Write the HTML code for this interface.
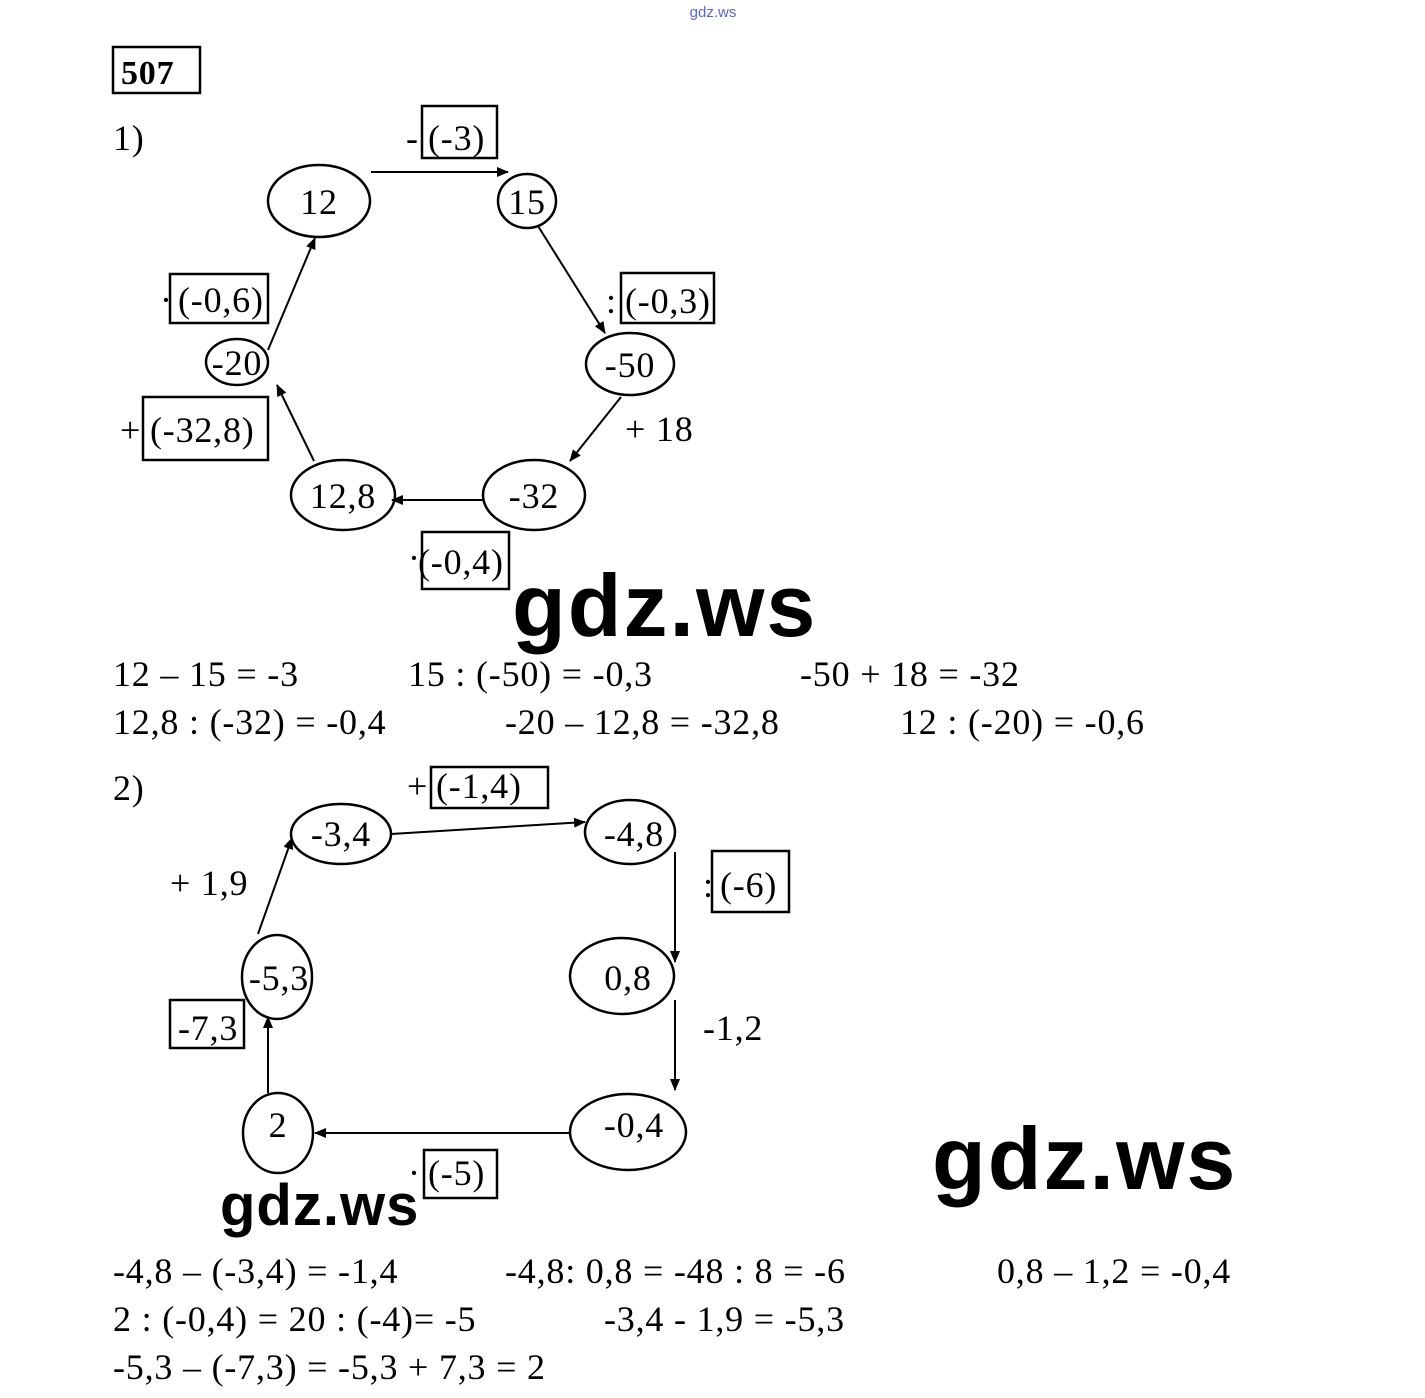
<!DOCTYPE html>
<html><head><meta charset="utf-8"><style>
html,body{margin:0;padding:0;background:#fff;}
svg{display:block;}
text{font-family:"Liberation Serif",serif;font-size:36px;fill:#000;letter-spacing:0.8px;}
.wm{font-family:"Liberation Sans",sans-serif;font-weight:bold;letter-spacing:2px;}
</style></head><body>
<svg width="1425" height="1398" viewBox="0 0 1425 1398" xmlns="http://www.w3.org/2000/svg">
<defs><marker id="a" markerWidth="12" markerHeight="10" refX="11" refY="5" orient="auto" markerUnits="userSpaceOnUse"><path d="M0,0 L12,5 L0,10 z" fill="#000"/></marker></defs>
<g fill="none" stroke="#000" stroke-width="2.5">
<rect x="113" y="47" width="87" height="46"/>
<ellipse cx="319" cy="201" rx="51" ry="36"/>
<ellipse cx="527" cy="201" rx="29" ry="27"/>
<ellipse cx="630" cy="364" rx="44" ry="31"/>
<ellipse cx="534" cy="495" rx="51" ry="35"/>
<ellipse cx="343" cy="495" rx="52" ry="35"/>
<ellipse cx="237" cy="362" rx="31" ry="23"/>
<rect x="422" y="106" width="75" height="52"/>
<rect x="621" y="273" width="93" height="50"/>
<rect x="422" y="532" width="87" height="57"/>
<rect x="143" y="397" width="125" height="63"/>
<rect x="170" y="274" width="98" height="49"/>
<ellipse cx="341" cy="834" rx="50" ry="30"/>
<ellipse cx="630" cy="832" rx="45" ry="32"/>
<ellipse cx="622" cy="976" rx="52" ry="38"/>
<ellipse cx="628" cy="1132" rx="58" ry="38"/>
<ellipse cx="278" cy="1133" rx="35" ry="40"/>
<ellipse cx="277" cy="977" rx="35" ry="42"/>
<rect x="431" y="767" width="117" height="41"/>
<rect x="712" y="851" width="77" height="61"/>
<rect x="424" y="1150" width="73" height="48"/>
<rect x="170" y="1000" width="74" height="48"/>
</g>
<g stroke="#000" stroke-width="2" marker-end="url(#a)">
<line x1="371" y1="172" x2="508" y2="172"/>
<line x1="538" y1="226" x2="605" y2="333"/>
<line x1="621" y1="397" x2="570" y2="461"/>
<line x1="483" y1="500" x2="392" y2="500"/>
<line x1="314" y1="461" x2="277" y2="385"/>
<line x1="268" y1="350" x2="315" y2="238"/>
<line x1="391" y1="834" x2="585" y2="822"/>
<line x1="675" y1="852" x2="675" y2="962"/>
<line x1="675" y1="1000" x2="675" y2="1090"/>
<line x1="570" y1="1133" x2="315" y2="1133"/>
<line x1="268" y1="1093" x2="268" y2="1017"/>
<line x1="258" y1="934" x2="292" y2="838"/>
</g>
<text x="713" y="17" style="font-family:'Liberation Sans',sans-serif;font-size:15px;fill:#5566dd;letter-spacing:0" text-anchor="middle">gdz.ws</text>
<text x="121" y="84" style="font-weight:bold;font-size:34px">507</text>
<text x="113" y="150">1)</text>
<text x="319" y="214" text-anchor="middle">12</text>
<text x="527" y="214" text-anchor="middle">15</text>
<text x="630" y="377" text-anchor="middle">-50</text>
<text x="534" y="508" text-anchor="middle">-32</text>
<text x="343" y="508" text-anchor="middle">12,8</text>
<text x="237" y="375" text-anchor="middle">-20</text>
<text x="406" y="150">-</text><text x="428" y="150">(-3)</text>
<text x="606" y="313">:</text><text x="625" y="313">(-0,3)</text>
<text x="625" y="441">+ 18</text>
<text x="408" y="570">·</text><text x="418" y="574">(-0,4)</text>
<text x="120" y="442">+</text><text x="150" y="442">(-32,8)</text>
<text x="160" y="312">·</text><text x="178" y="312">(-0,6)</text>
<text x="113" y="686">12 – 15 = -3</text>
<text x="408" y="686">15 : (-50) = -0,3</text>
<text x="800" y="686">-50 + 18 = -32</text>
<text x="113" y="734">12,8 : (-32) = -0,4</text>
<text x="505" y="734">-20 – 12,8 = -32,8</text>
<text x="900" y="734">12 : (-20) = -0,6</text>
<text x="113" y="800">2)</text>
<text x="341" y="846" text-anchor="middle">-3,4</text>
<text x="634" y="846" text-anchor="middle">-4,8</text>
<text x="628" y="990" text-anchor="middle">0,8</text>
<text x="634" y="1137" text-anchor="middle">-0,4</text>
<text x="278" y="1137" text-anchor="middle">2</text>
<text x="279" y="990" text-anchor="middle">-5,3</text>
<text x="407" y="798">+</text><text x="436" y="798">(-1,4)</text>
<text x="703" y="897">:</text><text x="720" y="897">(-6)</text>
<text x="703" y="1040">-1,2</text>
<text x="408" y="1185">·</text><text x="428" y="1185">(-5)</text>
<text x="170" y="895">+ 1,9</text>
<text x="178" y="1040">-7,3</text>
<text x="113" y="1283">-4,8 – (-3,4) = -1,4</text>
<text x="505" y="1283">-4,8: 0,8 = -48 : 8 = -6</text>
<text x="997" y="1283">0,8 – 1,2 = -0,4</text>
<text x="113" y="1331">2 : (-0,4) = 20 : (-4)= -5</text>
<text x="604" y="1331">-3,4 - 1,9 = -5,3</text>
<text x="113" y="1379">-5,3 – (-7,3) = -5,3 + 7,3 = 2</text>
<text class="wm" x="512" y="636" style="font-size:88px">gdz.ws</text>
<text class="wm" x="932" y="1189" style="font-size:88px">gdz.ws</text>
<text class="wm" x="220" y="1225" style="font-size:58px;letter-spacing:1px">gdz.ws</text>
</svg>
</body></html>
